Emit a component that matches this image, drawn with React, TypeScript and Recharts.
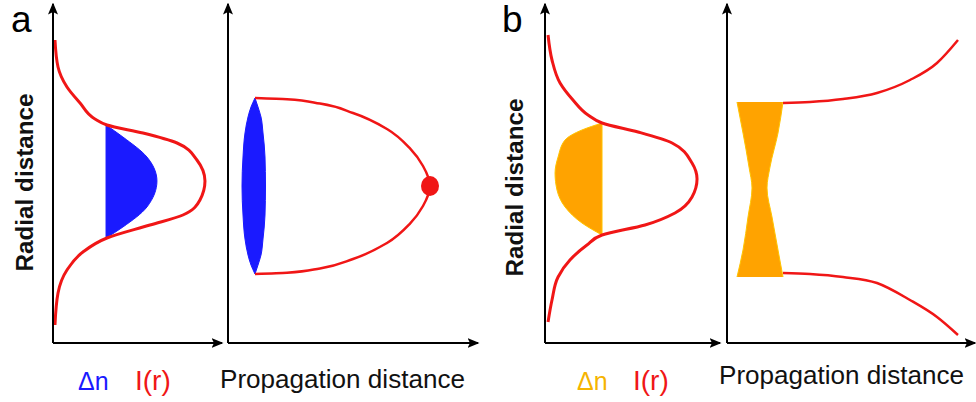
import { ComposedChart, Line, Area, Scatter, XAxis, YAxis, Label } from "recharts";

const W = 976;
const H = 402;
const FONT = '"Liberation Sans", Arial, Helvetica, sans-serif';
const RED = "#f01616";
const BLUE = "#1a1aff";
const ORANGE = "#ffa300";
const GOLD = "#f5b400";

// ---- panel a : self-focusing ----
// beam intensity profile I(r), radial r (arb. units), peak = 1
const profileA = [
  { r: 3.525, I: 0.013 },
  { r: 2.85, I: 0.033 },
  { r: 2.35, I: 0.092 },
  { r: 1.95, I: 0.178 },
  { r: 1.55, I: 0.276 },
  { r: 1.4, I: 0.355 },
  { r: 1.2, I: 0.592 },
  { r: 0.95, I: 0.816 },
  { r: 0.525, I: 0.947 },
  { r: 0, I: 1.0 },
  { r: -0.475, I: 0.967 },
  { r: -0.85, I: 0.855 },
  { r: -1.1, I: 0.638 },
  { r: -1.425, I: 0.355 },
  { r: -1.775, I: 0.197 },
  { r: -2.225, I: 0.092 },
  { r: -2.8, I: 0.033 },
  { r: -3.6, I: 0.013 },
];
// index change Δn (positive, grows to the right of its zero level)
const deltaNA = [
  { r: 1.4, dn: [0.349, 0.349] },
  { r: 1.1, dn: [0.349, 0.46] },
  { r: 0.6, dn: [0.349, 0.618] },
  { r: 0, dn: [0.349, 0.684] },
  { r: -0.65, dn: [0.349, 0.618] },
  { r: -1.15, dn: [0.349, 0.46] },
  { r: -1.425, dn: [0.349, 0.349] },
];
// lens (blue) across r, propagation z
const lensA = [
  { r: 2.2, w: [0.54, 0.54] },
  { r: 1.975, w: [0.46, 0.6] },
  { r: 1.725, w: [0.4, 0.66] },
  { r: 1.325, w: [0.34, 0.7] },
  { r: 0.725, w: [0.3, 0.74] },
  { r: 0, w: [0.28, 0.75] },
  { r: -0.725, w: [0.3, 0.74] },
  { r: -1.325, w: [0.34, 0.7] },
  { r: -1.725, w: [0.4, 0.66] },
  { r: -1.975, w: [0.46, 0.6] },
  { r: -2.2, w: [0.54, 0.54] },
];
// beam edge: propagation distance z reached at each radius
const envelopeA = [
  { r: 2.2, z: 0.54 },
  { r: 2.17, z: 1.18 },
  { r: 2.06, z: 1.84 },
  { r: 1.825, z: 2.5 },
  { r: 1.425, z: 3.18 },
  { r: 0.94, z: 3.64 },
  { r: 0.5, z: 3.9 },
  { r: 0, z: 4.04 },
  { r: -0.5, z: 3.9 },
  { r: -0.94, z: 3.64 },
  { r: -1.425, z: 3.18 },
  { r: -1.825, z: 2.5 },
  { r: -2.06, z: 1.84 },
  { r: -2.17, z: 1.18 },
  { r: -2.2, z: 0.54 },
];
const focusA = [{ r: 0, z: 4.04 }];

// ---- panel b : self-defocusing ----
const profileB = [
  { r: 3.6, I: 0.02 },
  { r: 2.975, I: 0.046 },
  { r: 2.4, I: 0.099 },
  { r: 1.975, I: 0.184 },
  { r: 1.6, I: 0.283 },
  { r: 1.4, I: 0.375 },
  { r: 1.175, I: 0.612 },
  { r: 0.9, I: 0.836 },
  { r: 0.4, I: 0.967 },
  { r: 0, I: 1.0 },
  { r: -0.45, I: 0.967 },
  { r: -0.85, I: 0.855 },
  { r: -1.15, I: 0.658 },
  { r: -1.4, I: 0.375 },
  { r: -1.65, I: 0.276 },
  { r: -2.025, I: 0.164 },
  { r: -2.45, I: 0.086 },
  { r: -3.025, I: 0.046 },
  { r: -3.575, I: 0.02 },
];
// negative Δn, drawn to the left of its zero level
const deltaNB = [
  { r: 1.4, dn: [0.375, 0.375] },
  { r: 1.225, dn: [0.243, 0.375] },
  { r: 0.975, dn: [0.132, 0.375] },
  { r: 0.55, dn: [0.086, 0.375] },
  { r: 0.15, dn: [0.066, 0.375] },
  { r: -0.275, dn: [0.079, 0.375] },
  { r: -0.7, dn: [0.132, 0.375] },
  { r: -1.1, dn: [0.243, 0.375] },
  { r: -1.4, dn: [0.375, 0.375] },
];
const lensB = [
  { r: 2.15, w: [0.2, 1.12] },
  { r: 1.375, w: [0.32, 1.02] },
  { r: 0.525, w: [0.44, 0.86] },
  { r: 0, w: [0.5, 0.8] },
  { r: -0.725, w: [0.42, 0.9] },
  { r: -1.55, w: [0.32, 1.02] },
  { r: -2.225, w: [0.2, 1.12] },
];
// diverging beam edges, radius vs propagation distance
const beamB = [
  { z: 1.12, up: 2.125, lo: -2.125 },
  { z: 1.66, up: 2.15, lo: -2.15 },
  { z: 2.32, up: 2.225, lo: -2.225 },
  { z: 3.0, up: 2.375, lo: -2.375 },
  { z: 3.66, up: 2.7, lo: -2.8 },
  { z: 4.2, up: 3.125, lo: -3.225 },
  { z: 4.62, up: 3.7, lo: -3.675 },
];

const arrowDefs = (id: string) => (
  <defs>
    <marker
      id={id}
      viewBox="0 0 12 10"
      refX={10.5}
      refY={5}
      markerWidth={12}
      markerHeight={10}
      markerUnits="userSpaceOnUse"
      orient="auto-start-reverse"
    >
      <path d="M0,0 L12,5 L0,10 L2.5,5 Z" fill="#000" />
    </marker>
  </defs>
);

const axisLineX = (id: string) => ({ stroke: "#000", strokeWidth: 2, markerEnd: `url(#${id})` });
const axisLineY = (id: string) => ({ stroke: "#000", strokeWidth: 2, markerStart: `url(#${id})` });

const radialTitle = (dx: number, dy: number) => (props: any) => {
  const vb = props.viewBox || {};
  const tx = vb.x + vb.width + dx;
  const ty = vb.y + vb.height / 2 + dy;
  return (
    <text
      x={tx}
      y={ty}
      transform={`rotate(-90 ${tx} ${ty})`}
      textAnchor="middle"
      fontFamily={FONT}
      fontWeight={700}
      fontSize={24}
      textLength={178}
      lengthAdjust="spacingAndGlyphs"
      fill="#111"
    >
      Radial distance
    </text>
  );
};

const propagationTitle = (dx: number, dy: number) => (props: any) => {
  const { x, y, width } = props.viewBox;
  return (
    <text
      x={x + width / 2 + dx}
      y={y + dy}
      textAnchor="middle"
      fontFamily={FONT}
      fontSize={26}
      textLength={245}
      lengthAdjust="spacingAndGlyphs"
      fill="#111"
    >
      Propagation distance
    </text>
  );
};

const profileLegend = (dnColor: string, dnDx: number, iDx: number) => (props: any) => {
  const { x, y } = props.viewBox;
  return (
    <g fontFamily={FONT}>
      <text x={x + dnDx} y={y + 47} fontSize={25} fill={dnColor}>
        Δn
      </text>
      <text x={x + iDx} y={y + 47} fontSize={28} fill={RED}>
        I(r)
      </text>
    </g>
  );
};

const focusDot = (p: any) => <ellipse cx={p.cx} cy={p.cy} rx={9} ry={10} fill={RED} />;

const layer: React.CSSProperties = { position: "absolute", left: 0, top: 0 };

export default function App() {
  return (
    <div style={{ position: "absolute", left: 0, top: 0, width: W, height: H, background: "#fff" }}>
      {/* a: intensity profile */}
      <div style={layer}>
        <ComposedChart width={W} height={H} layout="vertical" margin={{ top: 4, left: 52, right: 754, bottom: 58 }}>
          {arrowDefs("arrA1")}
          <XAxis type="number" domain={[0, 1.112]} allowDataOverflow tick={false} tickLine={false} height={1} axisLine={axisLineX("arrA1")}>
            <Label content={profileLegend(BLUE, 25, 82)} />
          </XAxis>
          <YAxis type="number" dataKey="r" reversed domain={[-4.05, 4.425]} allowDataOverflow tick={false} tickLine={false} width={1} axisLine={axisLineY("arrA1")}>
            <Label content={radialTitle(-20, 9)} />
          </YAxis>
          <Area data={deltaNA} dataKey="dn" type="monotone" fill={BLUE} fillOpacity={1} stroke={BLUE} strokeWidth={1} dot={false} activeDot={false} isAnimationActive={false} />
          <Line data={profileA} dataKey="I" type="monotone" stroke={RED} strokeWidth={3} dot={false} activeDot={false} isAnimationActive={false} />
          <text x={11} y={32} fontFamily={FONT} fontSize={37} fill="#000">a</text>
        </ComposedChart>
      </div>

      {/* a: propagation */}
      <div style={layer}>
        <ComposedChart width={W} height={H} layout="vertical" margin={{ top: 4, left: 227, right: 498, bottom: 58 }}>
          {arrowDefs("arrA2")}
          <XAxis type="number" domain={[0, 5]} allowDataOverflow tick={false} tickLine={false} height={1} axisLine={axisLineX("arrA2")}>
            <Label content={propagationTitle(-10.5, 45)} />
          </XAxis>
          <YAxis type="number" dataKey="r" reversed domain={[-3.925, 4.55]} allowDataOverflow tick={false} tickLine={false} width={1} axisLine={axisLineY("arrA2")} />
          <Area data={lensA} dataKey="w" type="monotone" fill={BLUE} fillOpacity={1} stroke={BLUE} strokeWidth={1} dot={false} activeDot={false} isAnimationActive={false} />
          <Line data={envelopeA} dataKey="z" type="monotone" stroke={RED} strokeWidth={2.5} dot={false} activeDot={false} isAnimationActive={false} />
          <Scatter data={focusA} dataKey="z" shape={focusDot} isAnimationActive={false} />
        </ComposedChart>
      </div>

      {/* b: intensity profile */}
      <div style={layer}>
        <ComposedChart width={W} height={H} layout="vertical" margin={{ top: 4, left: 544, right: 256, bottom: 58 }}>
          {arrowDefs("arrB1")}
          <XAxis type="number" domain={[0, 1.151]} allowDataOverflow tick={false} tickLine={false} height={1} axisLine={axisLineX("arrB1")}>
            <Label content={profileLegend(GOLD, 32, 88)} />
          </XAxis>
          <YAxis type="number" dataKey="r" reversed domain={[-4.1, 4.375]} allowDataOverflow tick={false} tickLine={false} width={1} axisLine={axisLineY("arrB1")}>
            <Label content={radialTitle(-22, 14)} />
          </YAxis>
          <Area data={deltaNB} dataKey="dn" type="monotone" fill={ORANGE} fillOpacity={1} stroke="#ffc400" strokeWidth={1} dot={false} activeDot={false} isAnimationActive={false} />
          <Line data={profileB} dataKey="I" type="monotone" stroke={RED} strokeWidth={3} dot={false} activeDot={false} isAnimationActive={false} />
          <text x={502} y={32} fontFamily={FONT} fontSize={37} fill="#000">b</text>
        </ComposedChart>
      </div>

      {/* b: propagation – lens and axes */}
      <div style={layer}>
        <ComposedChart width={W} height={H} layout="vertical" margin={{ top: 4, left: 726, right: 1, bottom: 58 }}>
          {arrowDefs("arrB2")}
          <XAxis type="number" domain={[0, 4.96]} allowDataOverflow tick={false} tickLine={false} height={1} axisLine={axisLineX("arrB2")}>
            <Label content={propagationTitle(-9.5, 41)} />
          </XAxis>
          <YAxis type="number" dataKey="r" reversed domain={[-3.875, 4.6]} allowDataOverflow tick={false} tickLine={false} width={1} axisLine={axisLineY("arrB2")} />
          <Area data={lensB} dataKey="w" type="monotone" fill={ORANGE} fillOpacity={1} stroke="#ffc400" strokeWidth={1} dot={false} activeDot={false} isAnimationActive={false} />
        </ComposedChart>
      </div>

      {/* b: propagation – beam edges (same plot box) */}
      <div style={layer}>
        <ComposedChart width={W} height={H} data={beamB} margin={{ top: 4, left: 727, right: 1, bottom: 59 }}>
          <XAxis type="number" dataKey="z" domain={[0, 4.96]} allowDataOverflow hide />
          <YAxis type="number" domain={[-3.875, 4.6]} allowDataOverflow hide />
          <Line dataKey="up" type="monotone" stroke={RED} strokeWidth={2.5} dot={false} activeDot={false} isAnimationActive={false} />
          <Line dataKey="lo" type="monotone" stroke={RED} strokeWidth={2.5} dot={false} activeDot={false} isAnimationActive={false} />
        </ComposedChart>
      </div>
    </div>
  );
}
